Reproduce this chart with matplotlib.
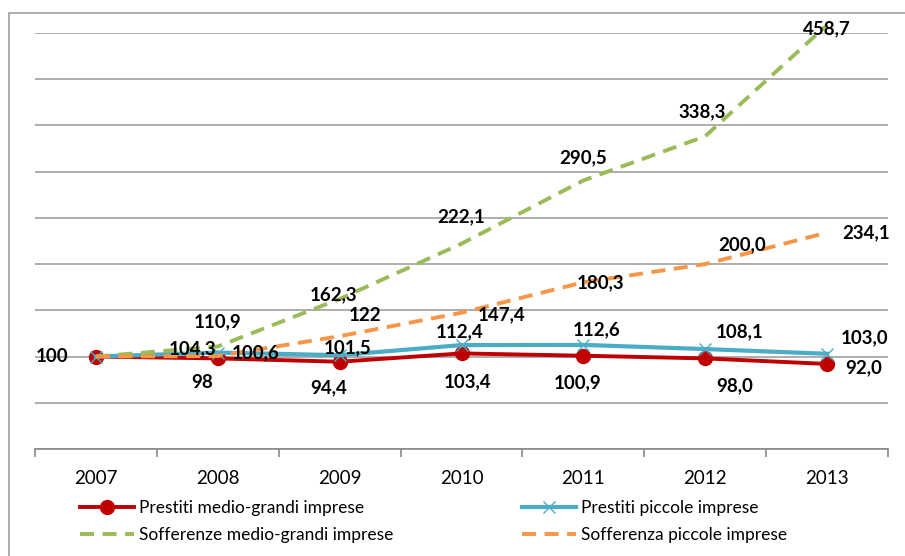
import matplotlib.pyplot as plt
from matplotlib.patches import Rectangle

anni = ['2007', '2008', '2009', '2010', '2011', '2012', '2013']
prestiti_medio_grandi = [100, 98, 94.4, 103.4, 100.9, 98.0, 92.0]
prestiti_piccole = [100, 104.3, 101.5, 112.4, 112.6, 108.1, 103.0]
sofferenze_medio_grandi = [100, 110.9, 162.3, 222.1, 290.5, 338.3, 458.7]
sofferenze_piccole = [100, 100.6, 122, 147.4, 180.3, 200.0, 234.1]

etichette_rosso = ['100', '98', '94,4', '103,4', '100,9', '98,0', '92,0']
etichette_azzurro = [None, '104,3', '101,5', '112,4', '112,6', '108,1', '103,0']
etichette_verde = [None, '110,9', '162,3', '222,1', '290,5', '338,3', '458,7']
etichette_arancio = [None, '100,6', '122', '147,4', '180,3', '200,0', '234,1']

# spostamento etichette in pixel (dx, dy verso l'alto)
off_rosso = [(-44, 0), (-16, -24), (-11, -26), (6, -28), (-6, -27), (29, -27), (37, -4)]
off_azzurro = [None, (-25, 4), (8, 7), (-2, 13), (13, 15), (34, 17), (37, 16)]
off_verde = [None, (0, 25), (-6, 4), (0, 27), (0, 23), (-3, 25), (0, -4)]
off_arancio = [None, (38, 3), (25, 21), (40, -2), (17, 0), (37, 19), (39, 0)]

plt.rcParams['font.family'] = ['Lato', 'DejaVu Sans']

fig = plt.figure(figsize=(9.05, 5.56), dpi=100)
ax = fig.add_axes([35 / 905, 1 - 449 / 556, 853 / 905, 416 / 556])

x = list(range(len(anni)))
l1, = ax.plot(x, prestiti_medio_grandi, color='#C00000', lw=2.8, marker='o', ms=10,
              label='Prestiti medio-grandi imprese', zorder=3)
l2, = ax.plot(x, prestiti_piccole, color='#4BACC6', lw=3, marker='x', ms=9, mew=1,
              label='Prestiti piccole imprese', zorder=4)
l3, = ax.plot(x, sofferenze_medio_grandi, color='#9BBB59', lw=2.8, ls=(0, (3.6, 2.2)),
              label='Sofferenze medio-grandi imprese', zorder=5, clip_on=False)
l4, = ax.plot(x, sofferenze_piccole, color='#F79646', lw=2.8, ls=(0, (3.6, 2.2)),
              label='Sofferenza piccole imprese', zorder=6)

font_lab = dict(fontsize=13.5, fontweight='bold', ha='center', va='center', zorder=10)
for valori, testi, offs in [(prestiti_medio_grandi, etichette_rosso, off_rosso),
                            (prestiti_piccole, etichette_azzurro, off_azzurro),
                            (sofferenze_medio_grandi, etichette_verde, off_verde),
                            (sofferenze_piccole, etichette_arancio, off_arancio)]:
    for i, (v, t, o) in enumerate(zip(valori, testi, offs)):
        if t is None:
            continue
        ax.annotate(t, xy=(i, v), xytext=o, textcoords='offset pixels',
                    annotation_clip=False, **font_lab)

ax.set_xlim(-0.5, 6.5)
ax.set_ylim(0, 450)
ax.set_yticks(range(0, 451, 50))
ax.yaxis.grid(True, color='#A0A0A0', lw=1.2)
ax.tick_params(axis='y', left=False, labelleft=False)
ax.set_axisbelow(True)

ax.set_xticks([i + 0.5 for i in range(-1, 7)])
ax.set_xticklabels([])
ax.set_xticks(x, minor=True)
ax.set_xticklabels(anni, minor=True, fontsize=13.5)
ax.tick_params(axis='x', which='major', length=6, color='#888888', width=1.2)
ax.tick_params(axis='x', which='minor', length=0, pad=15)

for s in ['top', 'left', 'right']:
    ax.spines[s].set_visible(False)
ax.spines['bottom'].set_color('#888888')
ax.spines['bottom'].set_linewidth(1.2)

leg_kw = dict(loc='upper left', frameon=False, fontsize=12.5, handlelength=3.1,
              handletextpad=0.3, labelspacing=0.63, borderpad=0, borderaxespad=0)
fig.legend(handles=[l1, l3], bbox_to_anchor=(80 / 905, 1 - 500 / 556), **leg_kw)
fig.legend(handles=[l2, l4], bbox_to_anchor=(522 / 905, 1 - 500 / 556), **leg_kw)

fig.patches.append(Rectangle((9 / 905, -0.1), 1.2, 1 - 13 / 556 + 0.1,
                             transform=fig.transFigure, fill=False,
                             edgecolor='#A0A0A0', lw=1.2))

fig.savefig('out.png', dpi=100)
